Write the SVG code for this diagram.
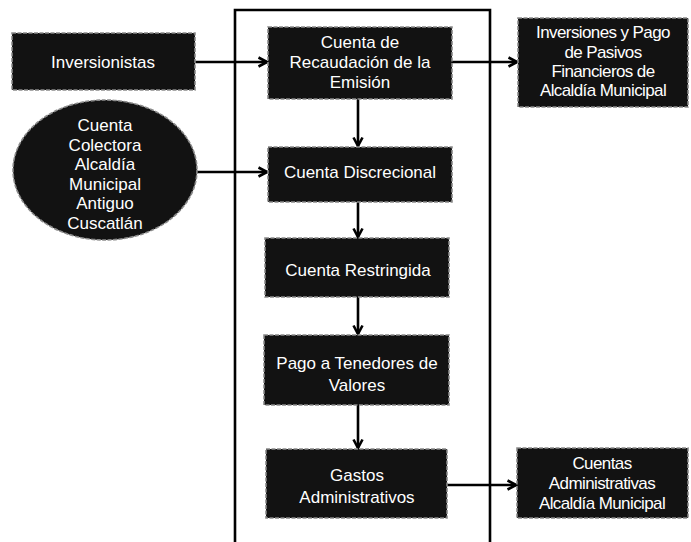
<svg xmlns="http://www.w3.org/2000/svg" width="691" height="542" viewBox="0 0 691 542">
<style>
.box{fill:#121212;stroke:#8a8a8a;stroke-width:1.6;stroke-dasharray:4 1.5}
.t{font-family:"Liberation Sans",Arial,sans-serif;font-size:17px;fill:#ffffff;text-anchor:middle}
.tn{letter-spacing:-0.6px}
.c{stroke:#000;stroke-width:2.6;fill:none}
</style>
<defs>
<marker id="ah" viewBox="0 0 12 12" refX="10.5" refY="6" markerWidth="12" markerHeight="12" markerUnits="userSpaceOnUse" orient="auto">
<path d="M2,1.5 L10.5,6 L2,10.5" fill="none" stroke="#000" stroke-width="2.6" stroke-linejoin="miter"/>
</marker>
</defs>
<rect width="691" height="542" fill="#ffffff"/>
<g id="frame">
<path d="M235,542 V10 H490 V542" fill="none" stroke="#000" stroke-width="2.6"/>
</g>
<g id="connectors">
<line class="c" x1="195" y1="62" x2="267" y2="62" marker-end="url(#ah)"/>
<line class="c" x1="197" y1="172" x2="267" y2="172" marker-end="url(#ah)"/>
<line class="c" x1="452" y1="62" x2="517" y2="62" marker-end="url(#ah)"/>
<line class="c" x1="447" y1="485" x2="516" y2="485" marker-end="url(#ah)"/>
<line class="c" x1="358" y1="99" x2="358" y2="146" marker-end="url(#ah)"/>
<line class="c" x1="358" y1="202" x2="358" y2="237" marker-end="url(#ah)"/>
<line class="c" x1="358" y1="297" x2="358" y2="334" marker-end="url(#ah)"/>
<line class="c" x1="358" y1="405" x2="358" y2="448" marker-end="url(#ah)"/>
</g>
<g id="inversionistas">
<rect class="box" x="12" y="33" width="183" height="57"/>
<text class="t" x="103" y="68">Inversionistas</text>
</g>
<g id="cuenta-colectora">
<ellipse class="box" cx="105" cy="170" rx="92" ry="70"/>
<text class="t" x="105" y="131">Cuenta</text>
<text class="t" x="105" y="150.5">Colectora</text>
<text class="t" x="105" y="170">Alcaldía</text>
<text class="t" x="105" y="189.5">Municipal</text>
<text class="t" x="105" y="209">Antiguo</text>
<text class="t" x="105" y="228.5">Cuscatlán</text>
</g>
<g id="recaudacion">
<rect class="box" x="268" y="27" width="184" height="72"/>
<text class="t" x="360" y="48">Cuenta de</text>
<text class="t" x="360" y="68">Recaudación de la</text>
<text class="t" x="360" y="88">Emisión</text>
</g>
<g id="discrecional">
<rect class="box" x="268" y="147" width="184" height="55"/>
<text class="t" x="360" y="178">Cuenta Discrecional</text>
</g>
<g id="restringida">
<rect class="box" x="265" y="238" width="184" height="59"/>
<text class="t" x="358" y="276">Cuenta Restringida</text>
</g>
<g id="pago">
<rect class="box" x="264" y="335" width="185" height="70"/>
<text class="t" x="357" y="369">Pago a Tenedores de</text>
<text class="t" x="357" y="391">Valores</text>
</g>
<g id="gastos">
<rect class="box" x="266" y="449" width="181" height="69"/>
<text class="t" x="357" y="481">Gastos</text>
<text class="t" x="357" y="503">Administrativos</text>
</g>
<g id="inversiones-pago">
<rect class="box" x="518" y="18" width="170" height="89"/>
<text class="t tn" x="603" y="38">Inversiones y Pago</text>
<text class="t tn" x="603" y="58">de Pasivos</text>
<text class="t tn" x="603" y="77">Financieros de</text>
<text class="t tn" x="603" y="96">Alcaldía Municipal</text>
</g>
<g id="cuentas-administrativas">
<rect class="box" x="517" y="448" width="171" height="70"/>
<text class="t tn" x="602" y="469">Cuentas</text>
<text class="t tn" x="602" y="489">Administrativas</text>
<text class="t tn" x="602" y="509">Alcaldía Municipal</text>
</g>
</svg>
